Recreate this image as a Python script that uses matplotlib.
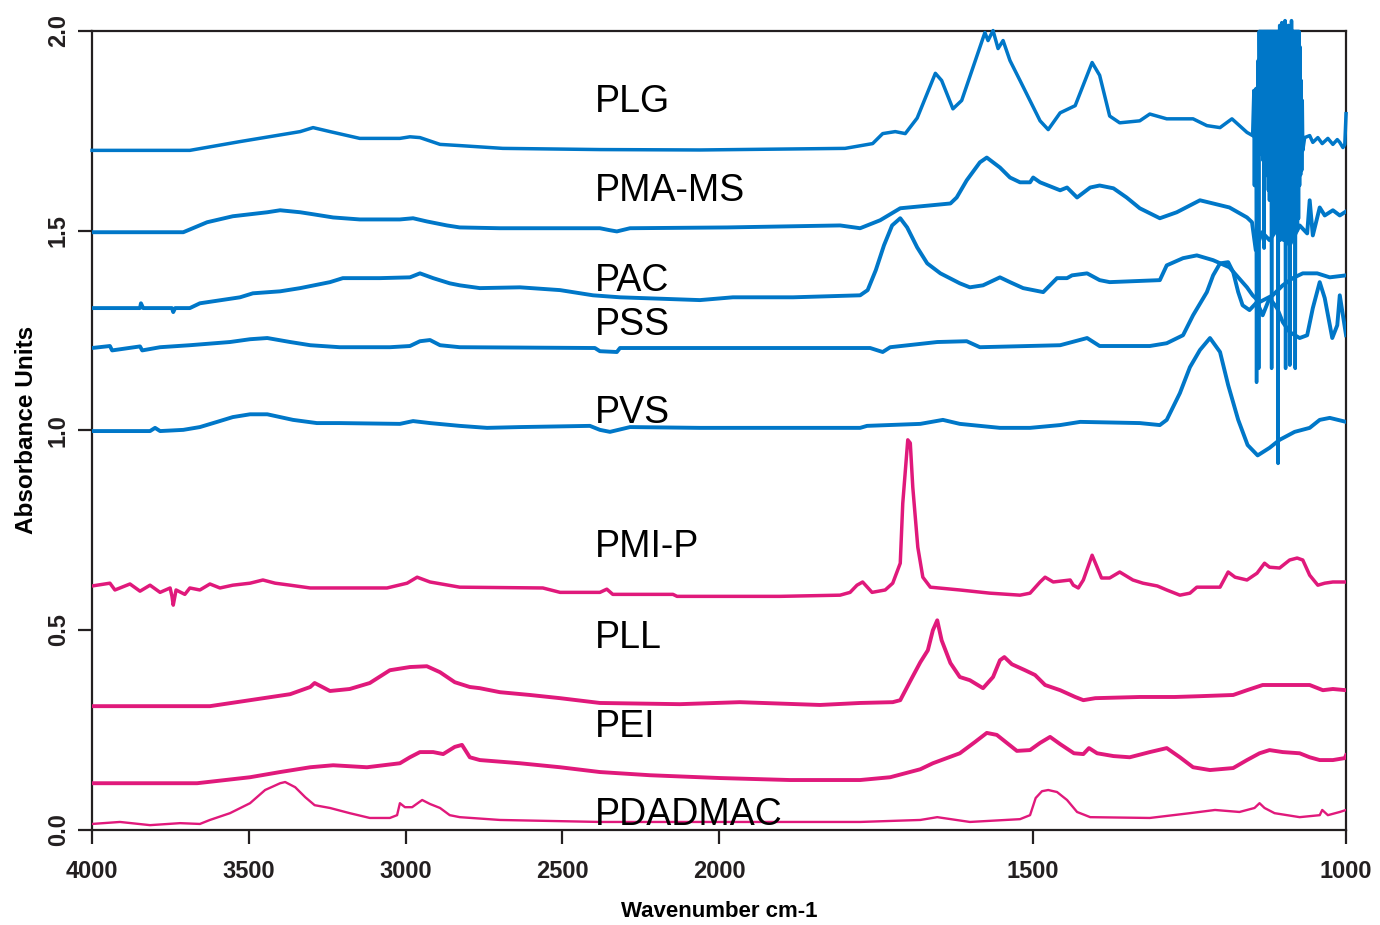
import numpy as np
import matplotlib
matplotlib.use('Agg')
import matplotlib.pyplot as plt

##################################
# Cosmetique
##################################
plt.rcParams['font.family'] = ['Liberation Sans', 'DejaVu Sans']
police_axes = ['Liberation Sans Narrow', 'Liberation Sans', 'DejaVu Sans']

bleu = '#0077c8'
rose = '#e0197b'

####################################
# Spectres (nombre d'onde cm-1, absorbance)
# attention : echelle dilatee x2 sous 2000 cm-1
####################################
plg_wn = [4000, 3688, 3528, 3336, 3295, 3241, 3146, 3018, 2986, 2954, 2890, 2827, 2690, 2380, 2061,
          1799, 1755, 1739, 1719, 1703, 1684, 1655, 1645, 1627, 1613, 1584, 1576, 1571, 1563, 1555,
          1547, 1536, 1520, 1488, 1475, 1456, 1432, 1405, 1393, 1377, 1361, 1329, 1313, 1286, 1244,
          1222, 1201, 1182, 1158, 1149]
plg_a = [1.701, 1.701, 1.723, 1.748, 1.758, 1.748, 1.731, 1.731, 1.735, 1.733, 1.716, 1.713, 1.706, 1.703, 1.702,
         1.706, 1.718, 1.743, 1.748, 1.743, 1.782, 1.894, 1.876, 1.805, 1.826, 1.959, 1.996, 1.976, 2.001, 1.956,
         1.976, 1.926, 1.876, 1.775, 1.753, 1.795, 1.813, 1.921, 1.889, 1.787, 1.770, 1.775, 1.792, 1.780, 1.780,
         1.763, 1.758, 1.780, 1.746, 1.738]
# zone saturee et bruitee (1147 -> 1069 cm-1)
plg_bruit = [1.851, 1.613, 1.826, 1.651, 1.856, 1.120, 1.775, 1.601, 1.926, 1.155,
             1.999, 1.701, 1.999, 1.713, 1.999, 1.690, 1.999, 1.676, 1.999, 1.456,
             1.999, 1.646, 1.999, 1.660, 1.999, 1.638, 1.999, 1.601, 1.999, 1.576,
             1.999, 1.620, 1.999, 1.155, 1.999, 1.551, 1.999, 1.526, 1.999, 1.501,
             1.999, 1.551, 1.999, 1.520, 1.999, 0.917, 1.999, 1.501, 2.014, 1.476,
             1.999, 1.526, 2.021, 1.501, 1.999, 1.476, 1.999, 1.490, 2.026, 1.155,
             1.999, 1.501, 1.999, 1.476, 2.014, 1.526, 1.999, 1.163, 1.999, 1.501,
             2.026, 1.476, 1.999, 1.526, 1.999, 1.490, 1.999, 1.155, 1.999, 1.551,
             1.999, 1.501, 1.999, 1.530, 1.999, 1.613, 1.960, 1.640, 1.876, 1.651,
             1.826, 1.701]
plg_wn_fin = [1066, 1058, 1053, 1045, 1038, 1029, 1021, 1014, 1010, 1005, 1002, 1000]
plg_a_fin = [1.733, 1.738, 1.721, 1.733, 1.718, 1.731, 1.716, 1.728, 1.721, 1.708, 1.716, 1.793]

pmams_wn = [4000, 3709, 3633, 3551, 3441, 3400, 3336, 3295, 3231, 3146, 3018, 2976, 2932, 2868, 2827,
            2699, 2380, 2348, 2326, 2284, 1987, 1807, 1775, 1743, 1711, 1631, 1621, 1605, 1584, 1573,
            1552, 1536, 1520, 1504, 1499, 1488, 1456, 1445, 1429, 1408, 1393, 1371, 1350, 1329, 1297,
            1270, 1233, 1212, 1186, 1158, 1150, 1144, 1134, 1122, 1106, 1090, 1074, 1062, 1058, 1053,
            1042, 1034, 1021, 1010, 1000]
pmams_a = [1.496, 1.496, 1.521, 1.536, 1.546, 1.551, 1.546, 1.541, 1.533, 1.528, 1.528, 1.531, 1.523, 1.513, 1.508,
           1.506, 1.506, 1.501, 1.498, 1.506, 1.508, 1.513, 1.506, 1.526, 1.556, 1.568, 1.583, 1.626, 1.671, 1.683,
           1.658, 1.633, 1.621, 1.621, 1.633, 1.621, 1.601, 1.608, 1.583, 1.608, 1.613, 1.606, 1.583, 1.556, 1.531,
           1.546, 1.576, 1.568, 1.558, 1.533, 1.521, 1.451, 1.496, 1.476, 1.513, 1.463, 1.513, 1.493, 1.576, 1.488,
           1.558, 1.538, 1.551, 1.538, 1.548]

pac_wn = [4000, 3847, 3844, 3837, 3745, 3741, 3735, 3688, 3656, 3528, 3487, 3400, 3336, 3241, 3200,
          3082, 2986, 2954, 2912, 2859, 2827, 2763, 2635, 2507, 2402, 2316, 2061, 1978, 1882, 1775,
          1763, 1750, 1737, 1724, 1711, 1700, 1684, 1668, 1647, 1616, 1600, 1579, 1552, 1536, 1515,
          1483, 1461, 1445, 1437, 1413, 1393, 1377, 1297, 1286, 1260, 1238, 1212, 1186, 1158, 1149,
          1138, 1117, 1101, 1085, 1069, 1046, 1026, 1000]
pac_a = [1.306, 1.306, 1.318, 1.306, 1.306, 1.296, 1.306, 1.306, 1.318, 1.333, 1.343, 1.348, 1.356, 1.371, 1.381,
         1.381, 1.383, 1.393, 1.381, 1.368, 1.363, 1.356, 1.358, 1.351, 1.338, 1.333, 1.326, 1.333, 1.333, 1.338,
         1.351, 1.401, 1.463, 1.513, 1.531, 1.508, 1.458, 1.418, 1.393, 1.368, 1.358, 1.363, 1.383, 1.371, 1.356,
         1.346, 1.381, 1.381, 1.388, 1.393, 1.376, 1.371, 1.376, 1.413, 1.431, 1.438, 1.426, 1.408, 1.358, 1.338,
         1.321, 1.338, 1.363, 1.381, 1.393, 1.393, 1.383, 1.388]

pss_wn = [4000, 3943, 3936, 3847, 3840, 3783, 3688, 3560, 3496, 3441, 3368, 3304, 3210, 3050, 2986,
          2954, 2922, 2890, 2827, 2396, 2380, 2326, 2316, 1935, 1759, 1739, 1727, 1652, 1605, 1584,
          1456, 1413, 1393, 1313, 1286, 1260, 1244, 1222, 1212, 1201, 1188, 1180, 1172, 1165, 1154,
          1142, 1133, 1122, 1110, 1101, 1090, 1074, 1062, 1053, 1042, 1034, 1022, 1014, 1010, 1005, 1000]
pss_a = [1.206, 1.211, 1.200, 1.210, 1.200, 1.208, 1.213, 1.221, 1.228, 1.231, 1.221, 1.213, 1.208, 1.208, 1.211,
         1.223, 1.226, 1.213, 1.208, 1.206, 1.198, 1.196, 1.206, 1.206, 1.206, 1.196, 1.208, 1.221, 1.223, 1.208,
         1.213, 1.231, 1.211, 1.211, 1.218, 1.238, 1.288, 1.346, 1.388, 1.418, 1.421, 1.396, 1.346, 1.313, 1.301,
         1.321, 1.288, 1.331, 1.306, 1.271, 1.246, 1.231, 1.238, 1.306, 1.371, 1.331, 1.231, 1.263, 1.338, 1.288, 1.238]

pvs_wn = [4000, 3815, 3799, 3783, 3709, 3656, 3601, 3551, 3496, 3441, 3400, 3359, 3283, 3210, 3018,
          2976, 2922, 2827, 2740, 2635, 2412, 2380, 2348, 2284, 2061, 1775, 1764, 1679, 1643, 1616,
          1552, 1504, 1456, 1424, 1329, 1297, 1286, 1265, 1249, 1233, 1217, 1201, 1188, 1172, 1157,
          1141, 1122, 1106, 1082, 1058, 1042, 1026, 1000]
pvs_a = [0.998, 0.998, 1.006, 0.998, 1.001, 1.008, 1.021, 1.033, 1.040, 1.040, 1.033, 1.026, 1.018, 1.018, 1.016,
         1.023, 1.018, 1.011, 1.006, 1.008, 1.011, 1.001, 0.996, 1.008, 1.006, 1.006, 1.011, 1.016, 1.026, 1.016,
         1.006, 1.006, 1.013, 1.021, 1.018, 1.013, 1.026, 1.093, 1.158, 1.201, 1.231, 1.196, 1.113, 1.026, 0.963,
         0.937, 0.956, 0.976, 0.996, 1.006, 1.026, 1.031, 1.021]

pmip_wn = [4000, 3943, 3927, 3879, 3847, 3815, 3783, 3751, 3745, 3741, 3732, 3704, 3688, 3656, 3624,
           3592, 3551, 3496, 3455, 3416, 3368, 3304, 3059, 2995, 2963, 2922, 2827, 2562, 2507, 2380,
           2358, 2339, 2147, 2134, 1903, 1807, 1791, 1780, 1771, 1756, 1735, 1723, 1711, 1707, 1699,
           1695, 1691, 1683, 1675, 1663, 1616, 1568, 1520, 1504, 1488, 1480, 1467, 1440, 1435, 1427,
           1419, 1405, 1397, 1390, 1377, 1361, 1340, 1324, 1301, 1286, 1265, 1249, 1238, 1201, 1188,
           1177, 1158, 1142, 1130, 1122, 1106, 1090, 1078, 1069, 1058, 1045, 1034, 1021, 1000]
pmip_a = [0.610, 0.617, 0.600, 0.615, 0.597, 0.612, 0.594, 0.605, 0.584, 0.562, 0.600, 0.589, 0.605, 0.600, 0.615,
          0.605, 0.612, 0.617, 0.625, 0.617, 0.612, 0.605, 0.605, 0.617, 0.632, 0.620, 0.607, 0.605, 0.594, 0.594,
          0.602, 0.589, 0.589, 0.584, 0.584, 0.587, 0.594, 0.612, 0.620, 0.594, 0.600, 0.617, 0.667, 0.817, 0.976,
          0.968, 0.857, 0.707, 0.632, 0.607, 0.600, 0.592, 0.587, 0.592, 0.620, 0.632, 0.620, 0.625, 0.612, 0.605,
          0.625, 0.687, 0.657, 0.630, 0.630, 0.645, 0.625, 0.617, 0.610, 0.600, 0.587, 0.592, 0.607, 0.607, 0.645,
          0.632, 0.625, 0.642, 0.667, 0.657, 0.655, 0.675, 0.680, 0.675, 0.637, 0.612, 0.617, 0.620, 0.620]

pll_wn = [4000, 3624, 3496, 3368, 3304, 3290, 3241, 3178, 3114, 3050, 2986, 2932, 2890, 2843, 2795,
          2763, 2699, 2603, 2507, 2380, 2125, 1967, 1839, 1775, 1723, 1711, 1695, 1679, 1667, 1659,
          1652, 1645, 1631, 1616, 1600, 1579, 1563, 1552, 1545, 1533, 1512, 1496, 1480, 1456, 1432,
          1419, 1400, 1329, 1273, 1233, 1180, 1158, 1133, 1074, 1058, 1037, 1021, 1000]
pll_a = [0.309, 0.309, 0.324, 0.339, 0.357, 0.367, 0.347, 0.352, 0.367, 0.399, 0.407, 0.409, 0.394, 0.369, 0.357,
         0.354, 0.344, 0.337, 0.329, 0.317, 0.314, 0.319, 0.312, 0.317, 0.319, 0.324, 0.372, 0.419, 0.449, 0.499,
         0.524, 0.474, 0.417, 0.382, 0.374, 0.354, 0.382, 0.424, 0.432, 0.414, 0.399, 0.387, 0.362, 0.349, 0.332,
         0.324, 0.329, 0.332, 0.332, 0.334, 0.337, 0.349, 0.362, 0.362, 0.362, 0.349, 0.352, 0.349]

pei_wn = [4000, 3665, 3496, 3400, 3304, 3231, 3123, 3018, 2986, 2954, 2912, 2880, 2843, 2820, 2795,
          2763, 2635, 2507, 2380, 2220, 1999, 1887, 1775, 1727, 1679, 1659, 1616, 1592, 1573, 1557,
          1541, 1525, 1504, 1488, 1472, 1456, 1434, 1419, 1410, 1397, 1371, 1345, 1313, 1286, 1265,
          1244, 1217, 1180, 1158, 1138, 1122, 1101, 1074, 1058, 1042, 1021, 1002, 1000]
pei_a = [0.116, 0.116, 0.131, 0.144, 0.156, 0.161, 0.156, 0.166, 0.181, 0.194, 0.194, 0.189, 0.207, 0.212, 0.181,
         0.174, 0.166, 0.156, 0.144, 0.136, 0.129, 0.124, 0.124, 0.131, 0.151, 0.166, 0.191, 0.219, 0.242, 0.237,
         0.217, 0.197, 0.199, 0.217, 0.232, 0.214, 0.191, 0.189, 0.204, 0.191, 0.184, 0.181, 0.194, 0.204, 0.181,
         0.156, 0.149, 0.154, 0.174, 0.191, 0.199, 0.194, 0.191, 0.181, 0.174, 0.174, 0.179, 0.186]

pdadmac_wn = [4000, 3911, 3815, 3719, 3656, 3624, 3560, 3496, 3448, 3400, 3384, 3352, 3320, 3290, 3241,
              3178, 3114, 3050, 3027, 3018, 3002, 2979, 2947, 2922, 2890, 2859, 2827, 2699, 2380, 2061,
              1775, 1679, 1652, 1600, 1520, 1504, 1495, 1485, 1475, 1461, 1445, 1429, 1408, 1313, 1249,
              1209, 1170, 1146, 1138, 1130, 1114, 1074, 1042, 1038, 1029, 1010, 1000]
pdadmac_a = [0.014, 0.019, 0.011, 0.016, 0.014, 0.024, 0.041, 0.066, 0.099, 0.116, 0.119, 0.106, 0.081, 0.061, 0.054,
             0.041, 0.029, 0.029, 0.036, 0.066, 0.056, 0.056, 0.074, 0.064, 0.054, 0.036, 0.031, 0.024, 0.019, 0.019,
             0.019, 0.024, 0.031, 0.019, 0.026, 0.036, 0.079, 0.096, 0.099, 0.094, 0.074, 0.044, 0.031, 0.029, 0.041,
             0.049, 0.044, 0.054, 0.066, 0.054, 0.041, 0.031, 0.036, 0.049, 0.036, 0.044, 0.049]

etiquettes = ['PLG', 'PMA-MS', 'PAC', 'PSS', 'PVS', 'PMI-P', 'PLL', 'PEI', 'PDADMAC']
etiq_y = [1.798, 1.575, 1.350, 1.238, 1.017, 0.682, 0.454, 0.232, 0.011]
etiq_wn = 2396

xticks = [4000, 3500, 3000, 2500, 2000, 1500, 1000]
yticks = [0.0, 0.5, 1.0, 1.5, 2.0]


####################################
# Echelle en x : compression 2:1 au-dessus de 2000 cm-1
####################################
def aller(w):
    w = np.asarray(w, dtype=float)
    return np.where(w >= 2000, w, 2 * w - 2000)


def retour(t):
    t = np.asarray(t, dtype=float)
    return np.where(t >= 2000, t, (t + 2000) / 2)


####################################
# Trace
####################################
fig = plt.figure(figsize=(13.8, 9.25), dpi=100)
ax = fig.add_axes([0.0667, 0.1032, 0.9087, 0.8633])
ax.set_xscale('function', functions=(aller, retour))

wn_bruit = np.linspace(1147, 1069, len(plg_bruit))
x_plg = np.concatenate([plg_wn, wn_bruit, plg_wn_fin])
y_plg = np.concatenate([plg_a, plg_bruit, plg_a_fin])

ax.plot(x_plg, y_plg, color=bleu, lw=2.5, clip_on=False, zorder=3)
ax.plot(pmams_wn, pmams_a, color=bleu, lw=2.8, zorder=3)
ax.plot(pac_wn, pac_a, color=bleu, lw=2.8, zorder=3)
ax.plot(pss_wn, pss_a, color=bleu, lw=2.8, zorder=3)
ax.plot(pvs_wn, pvs_a, color=bleu, lw=2.8, zorder=3)
ax.plot(pmip_wn, pmip_a, color=rose, lw=2.5, zorder=3)
ax.plot(pll_wn, pll_a, color=rose, lw=2.8, zorder=3)
ax.plot(pei_wn, pei_a, color=rose, lw=2.8, zorder=3)
ax.plot(pdadmac_wn, pdadmac_a, color=rose, lw=1.7, zorder=3)

for nom, yy in zip(etiquettes, etiq_y):
    ax.text(etiq_wn, yy, nom, fontsize=27, va='baseline', ha='left', color='black', zorder=4)

ax.set_xlim(4000, 1000)
ax.set_ylim(0, 2.0)

ax.set_xticks(xticks)
ax.set_xticklabels([str(t) for t in xticks], family=police_axes, fontweight='bold', fontsize=17)
ax.set_yticks(yticks)
ax.set_yticklabels(['%.1f' % t for t in yticks], family=police_axes, fontweight='bold',
                   fontsize=17, rotation=90, va='center')
ax.minorticks_off()
ax.tick_params(axis='x', direction='out', length=10, width=1.6, pad=12, colors='#231f20')
ax.tick_params(axis='y', direction='out', length=10, width=1.6, pad=6, colors='#231f20')

for cote in ['left', 'bottom', 'top', 'right']:
    ax.spines[cote].set_color('#231f20')
    ax.spines[cote].set_linewidth(1.6)

ax.set_xlabel('Wavenumber cm-1', family=police_axes, fontweight='bold', fontsize=16, labelpad=13)
ax.set_ylabel('Absorbance Units', family=police_axes, fontweight='bold', fontsize=17.5, labelpad=6)

plt.savefig('out.png', dpi=100)
print('OK')
